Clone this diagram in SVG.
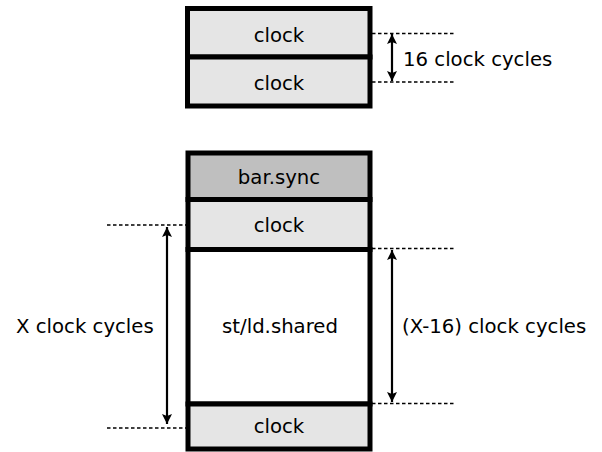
<svg xmlns="http://www.w3.org/2000/svg" width="602" height="452" viewBox="0 0 602 452">
<style>
.box{stroke:#000;stroke-width:5}
.light{fill:#e5e5e5}
.dark{fill:#bfbfbf}
.white{fill:#fff}
.t{font-family:"DejaVu Sans",sans-serif;font-size:19.7px;fill:#000}
.c{text-anchor:middle}
.dot{stroke:#000;stroke-width:1.3;stroke-dasharray:3.5,2.5;fill:none}
.arr{stroke:#000;stroke-width:2.2;fill:none;marker-start:url(#ah);marker-end:url(#ah)}
</style>
<defs>
<marker id="ah" viewBox="0 0 10 10" refX="10" refY="5" markerWidth="11" markerHeight="10" orient="auto-start-reverse" markerUnits="userSpaceOnUse">
<path d="M0,0 L10,5 L0,10 L2,5 z" fill="#000"/>
</marker>
</defs>
<rect width="602" height="452" fill="#fff"/>
<g id="top-clock1">
<rect class="box light" x="187.5" y="8.5" width="182.5" height="48.5"/>
<text class="t c" x="279" y="42">clock</text>
</g>
<g id="top-clock2">
<rect class="box light" x="187.5" y="57" width="182.5" height="49"/>
<text class="t c" x="279" y="90">clock</text>
</g>
<g id="barsync">
<rect class="box dark" x="188" y="153" width="182" height="46.5"/>
<text class="t c" x="279" y="184">bar.sync</text>
</g>
<g id="clock-a">
<rect class="box light" x="188" y="199.5" width="182" height="50"/>
<text class="t c" x="279" y="232">clock</text>
</g>
<g id="shared">
<rect class="box white" x="188" y="249.5" width="182" height="154.5"/>
<text class="t c" x="280" y="333">st/ld.shared</text>
</g>
<g id="clock-b">
<rect class="box light" x="188" y="404" width="182" height="45"/>
<text class="t c" x="279" y="433">clock</text>
</g>
<g id="connectors">
<line class="dot" x1="372" y1="33.5" x2="456" y2="33.5"/>
<line class="dot" x1="372" y1="82" x2="456" y2="82"/>
<line class="arr" x1="392" y1="34" x2="392" y2="81"/>
<line class="dot" x1="107" y1="225" x2="186" y2="225"/>
<line class="dot" x1="107" y1="428" x2="186" y2="428"/>
<line class="arr" x1="167" y1="227" x2="167" y2="424"/>
<line class="dot" x1="372" y1="248.5" x2="456" y2="248.5"/>
<line class="dot" x1="372" y1="403.5" x2="456" y2="403.5"/>
<line class="arr" x1="392" y1="250" x2="392" y2="402"/>
</g>
<g id="labels">
<text class="t" x="403" y="66">16 clock cycles</text>
<text class="t" x="16" y="333">X clock cycles</text>
<text class="t" x="402" y="333">(X-16) clock cycles</text>
</g>
</svg>
